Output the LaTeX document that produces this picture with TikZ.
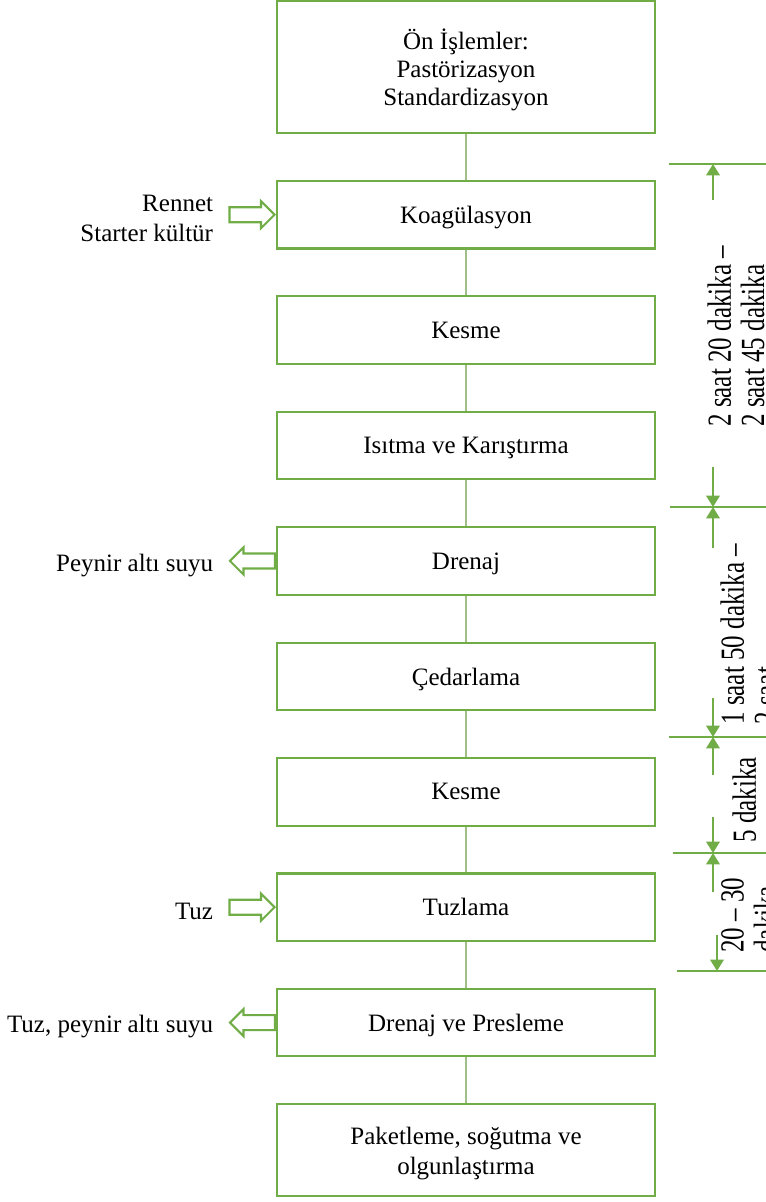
\documentclass[tikz,border=0pt]{standalone}
\usepackage{fontspec}
\usepackage{graphicx}
\setmainfont{Liberation Serif}
\usetikzlibrary{positioning, shapes.arrows, arrows.meta}
\definecolor{boxgreen}{RGB}{112,173,71}
\definecolor{linkgreen}{RGB}{160,190,135}
\newcommand{\tall}[1]{\scalebox{1}[1.35]{\begin{tabular}{@{}l@{}}#1\end{tabular}}}
\tikzset{
  node distance=22pt,
  every node/.style={font=\fontsize{12}{14.4}\selectfont},
  stepbox/.style={draw=boxgreen, line width=1pt, minimum width=181.4pt,
    minimum height=32.4pt, align=center, inner sep=2pt, text depth=0pt},
  link/.style={draw=linkgreen, line width=0.6pt},
  inarrow/.style={single arrow, draw=boxgreen, line width=1pt, inner xsep=0pt,
    inner ysep=3.1pt, minimum height=21.6pt, minimum width=12pt,
    single arrow head extend=2.9pt},
  outarrow/.style={inarrow, shape border rotate=180},
  sidetext/.style={align=right, inner sep=0pt, yshift=-2pt},
  dimline/.style={boxgreen, line width=1pt},
  dimarrow/.style={boxgreen, line width=1pt, -{Triangle[length=5.5pt, width=6.5pt]}},
  duration/.style={rotate=90, anchor=north west, inner sep=0pt,
    font=\fontsize{12}{11.8}\selectfont},
}

\begin{document}
\begin{tikzpicture}[x=0.48pt, y=-0.48pt]
      \useasboundingbox (0,0) rectangle (766,1202);
      \clip (0,0) rectangle (766,1202);

      \node[stepbox, minimum height=63.4pt, font=\fontsize{12}{13.5}\selectfont]
                                         (pre)   at (466,67) {Ön İşlemler:\\Pastörizasyon\\Standardizasyon};
      \node[stepbox, below=of pre]       (koag)  {Koagülasyon};
      \node[stepbox, below=of koag]      (cut1)  {Kesme};
      \node[stepbox, below=of cut1]      (heat)  {Isıtma ve Karıştırma};
      \node[stepbox, below=of heat]      (drain) {Drenaj};
      \node[stepbox, below=of drain]     (ched)  {Çedarlama};
      \node[stepbox, below=of ched]      (cut2)  {Kesme};
      \node[stepbox, below=of cut2]      (salt)  {Tuzlama};
      \node[stepbox, below=of salt]      (press) {Drenaj ve Presleme};
      \node[stepbox, below=of press, minimum height=44.2pt]
                                         (pack)  {Paketleme, soğutma ve\\olgunlaştırma};

      \draw[link] (pre) -- (koag)
                  (koag) -- (cut1)
                  (cut1) -- (heat)
                  (heat) -- (drain)
                  (drain) -- (ched)
                  (ched) -- (cut2)
                  (cut2) -- (salt)
                  (salt) -- (press)
                  (press) -- (pack);

      \node[inarrow, left=0pt of koag]    (inK)   {};
      \node[sidetext, left=7.2pt of inK]  (rennet) {Rennet\\Starter kültür};
      \node[outarrow, left=0pt of drain]  (outD)  {};
      \node[sidetext, left=7.2pt of outD] (whey)  {Peynir altı suyu};
      \node[inarrow, left=0pt of salt]    (inS)   {};
      \node[sidetext, left=7.2pt of inS]  (tuz)   {Tuz};
      \node[outarrow, left=0pt of press]  (outP)  {};
      \node[sidetext, left=7.2pt of outP] (brine) {Tuz, peynir altı suyu};

      \coordinate (d1) at (713,164);
      \coordinate (d2) at (713,507);
      \coordinate (d3) at (713,737);
      \coordinate (d4) at (713,853);
      \coordinate (d5) at (717,971);

      \draw[dimline] (d1) ++(-44,0) -- ++(120,0)
                     (d2) ++(-43,0) -- ++(120,0)
                     (d3) ++(-44,0) -- ++(120,0)
                     (d4) ++(-40,0) -- ++(120,0)
                     (d5) ++(-40,0) -- ++(120,0);

      \draw[dimarrow] (d1) ++(0,36) -- (d1);
      \draw[dimarrow] (d2) ++(0,-40) -- (d2);
      \draw[dimarrow] (d2) ++(0,41) -- (d2);
      \draw[dimarrow] (d3) ++(0,-39) -- (d3);
      \draw[dimarrow] (d3) ++(0,38) -- (d3);
      \draw[dimarrow] (d4) ++(0,-36) -- (d4);
      \draw[dimarrow] (d4) ++(0,39) -- (d4);
      \draw[dimarrow] (d5) ++(0,-36) -- (d5);

      \node[duration] (t1) at (707,427) {\tall{2 saat 20 dakika –\\2 saat 45 dakika}};
      \node[duration] (t2) at (720,725) {\tall{1 saat 50 dakika –\\2 saat}};
      \node[duration] (t3) at (732,843) {\tall{5 dakika}};
      \node[duration] (t4) at (720,953) {\tall{20 – 30\\dakika}};
\end{tikzpicture}
\end{document}
